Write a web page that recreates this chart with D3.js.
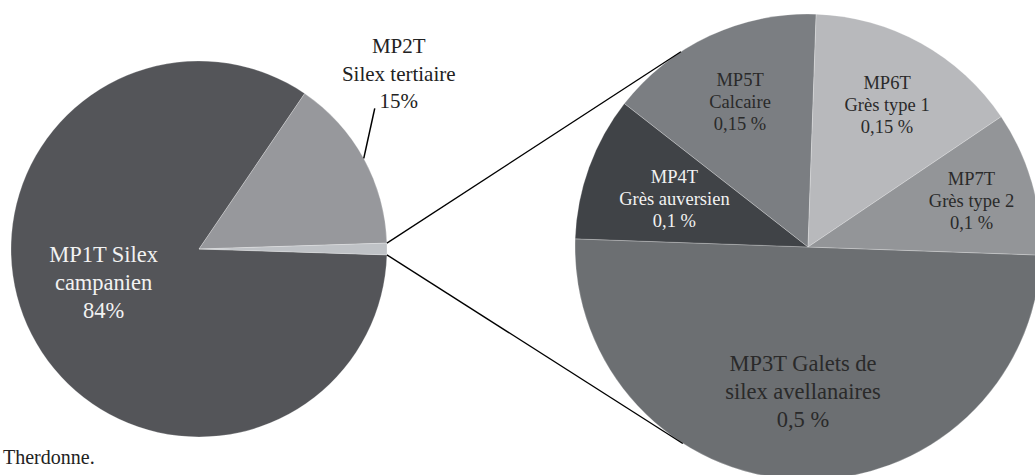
<!DOCTYPE html>
<html>
<head>
<meta charset="utf-8">
<script src="https://cdn.jsdelivr.net/npm/d3@7"></script>
<style>
  html, body { margin: 0; padding: 0; background: #fff; }
</style>
</head>
<body>
<div id="chart"></div>
<script>
// main pie: the last slice is the one broken out into the second pie
const mainNames= ['MP1T', 'MP2T', 'Autres'];
const mainValues= [84, 15, 1];
const mainLabels= [['MP1T Silex', 'campanien', '84%'], ['MP2T', 'Silex tertiaire', '15%'], null];
const mainColors= ['#545559', '#97989c', '#bfc2c6'];

const subNames= ['MP3T', 'MP4T', 'MP5T', 'MP6T', 'MP7T'];
const subValues= [0.5, 0.1, 0.15, 0.15, 0.1];
const subLabels= [
  ['MP3T Galets de', 'silex avellanaires', '0,5 %'],
  ['MP4T', 'Grès auversien', '0,1 %'],
  ['MP5T', 'Calcaire', '0,15 %'],
  ['MP6T', 'Grès type 1', '0,15 %'],
  ['MP7T', 'Grès type 2', '0,1 %']
];
const subColors= ['#6c6f72', '#404347', '#7b7e82', '#b8b9bc', '#939598'];
const subTextColors= ['#2a2a2a', '#f2f2f2', '#2a2a2a', '#2a2a2a', '#2a2a2a'];

const caption= 'Therdonne.';

const W= 1035, H= 475;
const deg= Math.PI/180;
const FONT= '"Liberation Serif"';

const svg= d3.select('#chart').append('svg')
  .attr('width', W).attr('height', H)
  .attr('font-family', FONT);

// ---- main pie
const c1= { x: 199, y: 249, r: 188 };
const otherShare= mainValues[2]/d3.sum(mainValues);
const start1= 90*deg + otherShare*Math.PI;
const pie1= d3.pie().sort(null).startAngle(start1).endAngle(start1+2*Math.PI);
const arcs1= pie1(mainValues);
const arc1= d3.arc().innerRadius(0).outerRadius(c1.r);

const g1= svg.append('g').attr('transform', `translate(${c1.x},${c1.y})`);
g1.selectAll('path').data(arcs1).enter().append('path')
  .attr('d', arc1)
  .attr('fill', (d, i) => mainColors[i])
  .attr('stroke', '#fff').attr('stroke-width', 0.4).attr('stroke-opacity', 0.6);

const polar= (a, r) => [r*Math.sin(a), -r*Math.cos(a)];

// MP1T label inside
{
  const [lx, ly]= polar(250*deg, 0.54*c1.r);
  const t= g1.append('text').attr('text-anchor', 'middle')
    .attr('font-family', FONT)
    .attr('font-size', 22.5).attr('fill', '#f2f2f2');
  mainLabels[0].forEach((s, k) => {
    t.append('tspan').attr('x', lx).attr('y', ly-22+k*28).text(s);
  });
}
// MP2T label outside with leader
{
  const a= (arcs1[1].startAngle+arcs1[1].endAngle)/2;
  const [px, py]= polar(a, c1.r);
  const ex= px+11, ey= py-50;
  g1.append('line').attr('x1', px).attr('y1', py).attr('x2', ex).attr('y2', ey)
    .attr('stroke', '#000').attr('stroke-width', 1.5);
  const t= g1.append('text').attr('text-anchor', 'middle')
    .attr('font-family', FONT)
    .attr('font-size', 21).attr('fill', '#222');
  mainLabels[1].forEach((s, k) => {
    t.append('tspan').attr('x', ex+24).attr('y', ey-55+k*27.5).text(s);
  });
}

// ---- secondary pie
const c2= { x: 808, y: 247, r: 233 };
const start2= 92*deg;
const pie2= d3.pie().sort(null).startAngle(start2).endAngle(start2+2*Math.PI);
const arcs2= pie2(subValues);
const arc2= d3.arc().innerRadius(0).outerRadius(c2.r);

const g2= svg.append('g').attr('transform', `translate(${c2.x},${c2.y})`);
g2.selectAll('path').data(arcs2).enter().append('path')
  .attr('d', arc2)
  .attr('fill', (d, i) => subColors[i])
  .attr('stroke', '#fff').attr('stroke-width', 0.4).attr('stroke-opacity', 0.6);

const labR= [0.62, 0.61, 0.69, 0.70, 0.73];
const labSize= [22.5, 18.5, 18.5, 18.5, 18.5];
const labLead= [28, 22, 22, 22, 22];
arcs2.forEach((d, i) => {
  const a= (d.startAngle+d.endAngle)/2;
  const [lx, ly]= polar(a, labR[i]*c2.r);
  const t= g2.append('text').attr('text-anchor', 'middle')
    .attr('font-family', FONT)
    .attr('font-size', labSize[i]).attr('fill', subTextColors[i]);
  subLabels[i].forEach((s, k) => {
    t.append('tspan').attr('x', lx).attr('y', ly+labSize[i]*0.35+(k-1)*labLead[i]).text(s);
  });
});

// ---- connector lines: tangents from the broken-out slice edges to the second pie
function tangent(px, py, upper) {
  const dx= px-c2.x, dy= py-c2.y;
  const d= Math.hypot(dx, dy);
  const th= Math.atan2(dy, dx);
  const al= Math.acos(c2.r/d);
  const cands= [th+al, th-al].map(t => [c2.x+c2.r*Math.cos(t), c2.y+c2.r*Math.sin(t)]);
  cands.sort((a, b) => a[1]-b[1]);
  return upper ? cands[0] : cands[1];
}
[arcs1[2].startAngle, arcs1[2].endAngle].forEach((a, k) => {
  const [ox, oy]= polar(a, c1.r);
  const px= c1.x+ox, py= c1.y+oy;
  const [tx, ty]= tangent(px, py, k===0);
  svg.append('line')
    .attr('x1', px).attr('y1', py).attr('x2', tx).attr('y2', ty)
    .attr('stroke', '#000').attr('stroke-width', 1.3);
});

svg.append('text')
  .attr('x', 3).attr('y', 464)
  .attr('font-family', FONT)
  .attr('font-size', 20).attr('fill', '#222')
  .text(caption);
</script>
</body>
</html>
